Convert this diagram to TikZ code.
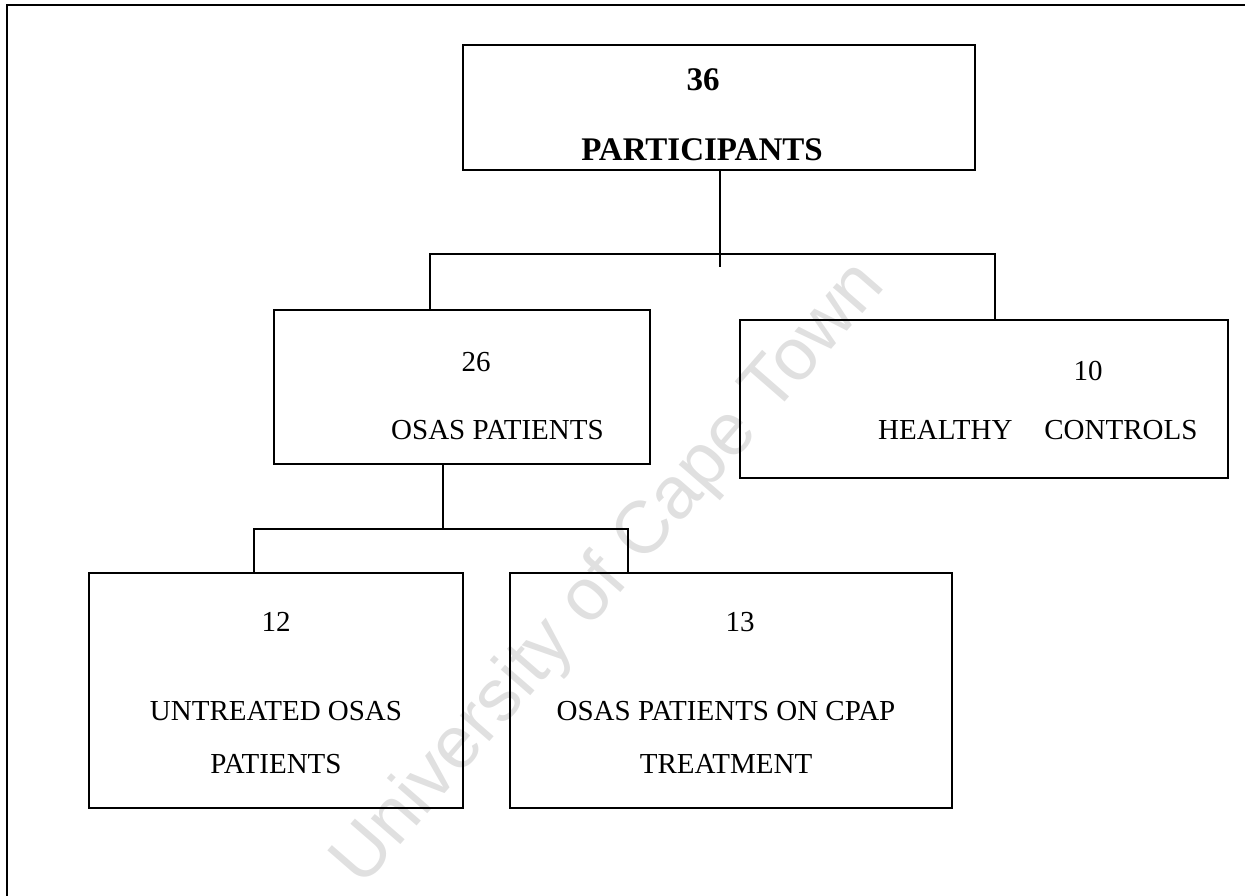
\documentclass[tikz,border=0pt]{standalone}
\usepackage{fontspec}
\setmainfont{Liberation Serif}
\newfontfamily\wmfont{Liberation Sans}
\begin{document}
\begin{tikzpicture}[x=1pt,y=-1pt,
  box/.style={draw=black,line width=1.5pt,inner sep=0pt},
  conn/.style={draw=black,line width=1.4pt},
  lbl/.style={anchor=base,inner sep=0pt,font=\fontsize{29}{34}\selectfont},
  blbl/.style={anchor=base,inner sep=0pt,font=\fontsize{33}{38}\selectfont\bfseries}]
\useasboundingbox (0,0) rectangle (1245,896);
% watermark
\node[rotate=49,text=black!12,font=\wmfont\fontsize{74}{80}\selectfont] (wm) at (610,575) {University of Cape Town};
% frame
\draw[line width=1.4pt] (1245,5) -- (7,5) -- (7,896);
% boxes
\node[box,minimum width=512pt,minimum height=125pt] (top) at (719,107.5) {};
\node[box,minimum width=376pt,minimum height=154pt] (osas) at (462,387) {};
\node[box,minimum width=488pt,minimum height=158pt] (healthy) at (984,399) {};
\node[box,minimum width=374pt,minimum height=235pt] (untr) at (276,690.5) {};
\node[box,minimum width=442pt,minimum height=235pt] (cpap) at (731,690.5) {};
% texts
\node[blbl] (t36) at (703,91) {36};
\node[blbl] (tpart) at (702,161) {PARTICIPANTS};
\node[lbl] (t26) at (476,371) {26};
\node[lbl,anchor=base west] (tosas) at (391,439) {OSAS PATIENTS};
\node[lbl] (t10) at (1088,380) {10};
\node[lbl,anchor=base west] (thc) at (878,439) {HEALTHY\hspace{1.1em}CONTROLS};
\node[lbl] (t12) at (276,631) {12};
\node[lbl] (tun1) at (276,720) {UNTREATED OSAS};
\node[lbl] (tun2) at (276,773) {PATIENTS};
\node[lbl] (t13) at (740,631) {13};
\node[lbl] (tcp1) at (726,720) {OSAS PATIENTS ON CPAP};
\node[lbl] (tcp2) at (726,773) {TREATMENT};
% connectors
\coordinate (j1) at (720,254);
\coordinate (j1end) at (720,267);
\coordinate (l1) at (430,254);
\coordinate (r1) at (995,254);
\draw[conn] (top.south -| j1) -- (j1end);
\draw[conn] (osas.north -| l1) -- (l1) -- (r1) -- (healthy.north -| r1);
\coordinate (j2) at (443,529);
\coordinate (l2) at (254,529);
\coordinate (r2) at (628,529);
\draw[conn] (osas.south -| j2) -- (j2);
\draw[conn] (untr.north -| l2) -- (l2) -- (r2) -- (cpap.north -| r2);
\end{tikzpicture}
\end{document}
